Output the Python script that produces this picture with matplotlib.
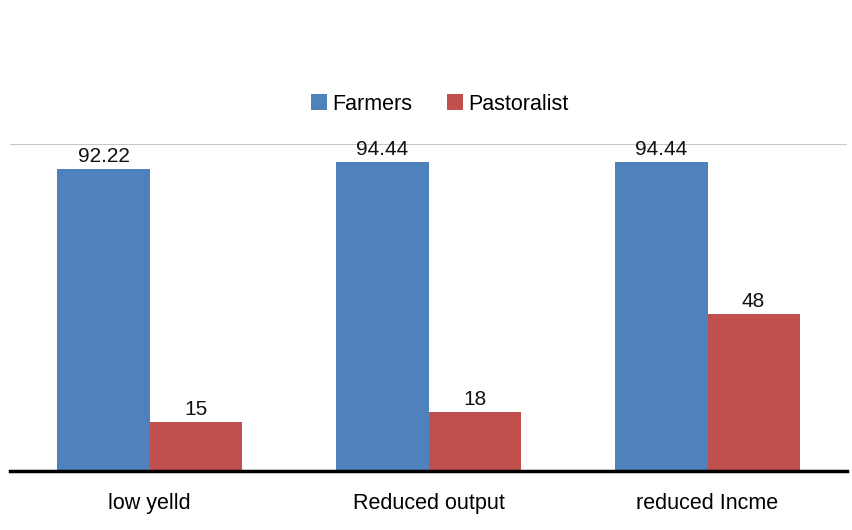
import matplotlib
matplotlib.use("Agg")
import matplotlib.pyplot as plt
import numpy as np

categories = ["low yelld", "Reduced output", "reduced Incme"]
farmers = [92.22, 94.44, 94.44]
pastoralist = [15, 18, 48]
series_names = ["Farmers", "Pastoralist"]

plt.rcParams['font.family'] = ['Liberation Sans', 'DejaVu Sans']

fig = plt.figure(figsize=(8.52, 5.30), dpi=100)
ax = fig.add_axes([10/852, 59/530, 837/852, 327/530])

x = np.arange(len(categories))
w = 0.33
b1 = ax.bar(x - w/2, farmers, w, color="#4F81BD", label=series_names[0], zorder=3)
b2 = ax.bar(x + w/2, pastoralist, w, color="#C0504D", label=series_names[1], zorder=3)

for bars, vals in ((b1, farmers), (b2, pastoralist)):
    for r, v in zip(bars, vals):
        ax.text(r.get_x() + r.get_width()/2, v + 1.0, f"{v:g}", ha="center", va="bottom",
                fontsize=15, color="#111111")

ax.set_xlim(-0.5, 2.5)
ax.set_ylim(0, 100)
ax.set_yticks([0, 100])
ax.yaxis.grid(True, color="#C8C8C8", linewidth=1.5, zorder=0)
ax.tick_params(axis='y', left=False, labelleft=False)
ax.tick_params(axis='x', length=0, pad=16, labelsize=15.5)
ax.set_xticks(x)
ax.set_xticklabels(categories)
for s in ("left", "right", "top"):
    ax.spines[s].set_visible(False)
ax.spines["bottom"].set_linewidth(2.5)
ax.spines["bottom"].set_color("black")
ax.spines["bottom"].set_zorder(4)

fig.legend(handles=[b1, b2], labels=series_names, loc="center", bbox_to_anchor=(440/852, 1 - 104/530),
           ncol=2, frameon=False, fontsize=15.5, handlelength=0.75, handleheight=0.75,
           columnspacing=1.6, handletextpad=0.25)

fig.savefig("out.png", dpi=100)
